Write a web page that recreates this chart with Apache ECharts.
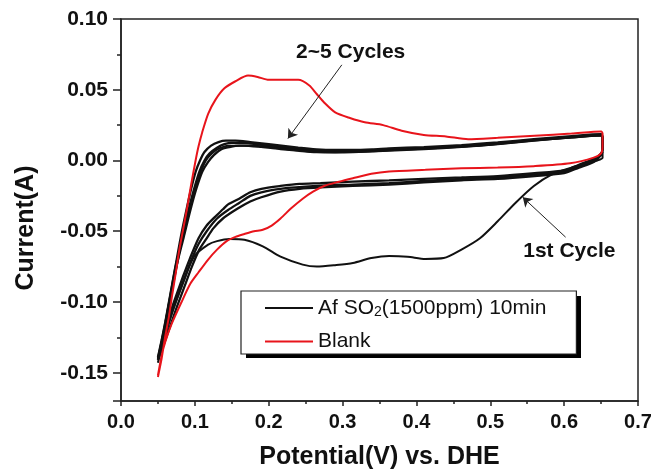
<!DOCTYPE html>
<html>
<head>
<meta charset="utf-8">
<script src="https://cdn.jsdelivr.net/npm/echarts@6/dist/echarts.min.js"></script>
<style>
  html, body { margin: 0; padding: 0; background: #fff; }
  #cv { width: 666px; height: 475px; }
</style>
</head>
<body>
<div id="cv"></div>
<script>
// axis ticks
const xTicks = [0, 0.7, 0.1]
const yRange = [-0.17, 0.10]

const blackName = 'Af SO2(1500ppm) 10min'
const redName = 'Blank'

// Blank: anodic then cathodic scan [potential, current]
const blank = [
  [0.050, -0.153], [0.055, -0.140], [0.060, -0.124], [0.065, -0.110], [0.069, -0.096],
  [0.074, -0.080], [0.079, -0.063], [0.084, -0.049], [0.089, -0.035], [0.095, -0.017],
  [0.101, 0.000], [0.105, 0.010], [0.110, 0.020], [0.118, 0.033], [0.128, 0.043],
  [0.140, 0.051], [0.155, 0.056], [0.172, 0.060], [0.185, 0.059], [0.200, 0.057],
  [0.220, 0.057], [0.240, 0.057], [0.255, 0.053], [0.265, 0.047], [0.275, 0.041],
  [0.290, 0.034], [0.310, 0.030], [0.330, 0.027], [0.355, 0.025], [0.380, 0.021],
  [0.410, 0.018], [0.440, 0.017], [0.470, 0.015], [0.510, 0.016], [0.560, 0.0175],
  [0.610, 0.019], [0.650, 0.0205], [0.652, 0.019], [0.652, 0.010], [0.650, 0.005],
  [0.640, 0.002], [0.608, -0.002], [0.559, -0.004], [0.510, -0.005], [0.461, -0.0055],
  [0.412, -0.0066], [0.363, -0.0078], [0.339, -0.0094], [0.314, -0.0125], [0.295, -0.015],
  [0.275, -0.018], [0.260, -0.022], [0.246, -0.027], [0.230, -0.034], [0.216, -0.041],
  [0.204, -0.046], [0.192, -0.049], [0.180, -0.050], [0.167, -0.052], [0.155, -0.054],
  [0.143, -0.057], [0.130, -0.063], [0.118, -0.070], [0.105, -0.079], [0.094, -0.087],
  [0.082, -0.100], [0.069, -0.115], [0.060, -0.128], [0.055, -0.138], [0.050, -0.152]
]

// 1st cycle after SO2: starts at 0.65 V going cathodic, then anodic
const cycle1 = [
  [0.652, 0.006], [0.652, 0.002], [0.645, 0.000], [0.630, -0.002], [0.608, -0.0054],
  [0.583, -0.010], [0.559, -0.018], [0.534, -0.030], [0.510, -0.043], [0.486, -0.055],
  [0.461, -0.063], [0.437, -0.069], [0.412, -0.0696], [0.388, -0.068], [0.363, -0.0675],
  [0.339, -0.069], [0.314, -0.0725], [0.290, -0.074], [0.265, -0.075], [0.246, -0.0736],
  [0.216, -0.068], [0.192, -0.0607], [0.167, -0.056], [0.147, -0.0555], [0.130, -0.057],
  [0.118, -0.0595], [0.099, -0.0678], [0.084, -0.0866], [0.069, -0.108], [0.057, -0.129],
  [0.050, -0.143], [0.055, -0.130], [0.061, -0.114], [0.068, -0.095], [0.075, -0.076],
  [0.083, -0.055], [0.092, -0.035], [0.100, -0.020], [0.108, -0.008], [0.115, 0.000],
  [0.123, 0.005], [0.133, 0.0085], [0.145, 0.0105], [0.165, 0.0105], [0.190, 0.0095],
  [0.216, 0.008], [0.240, 0.0068], [0.265, 0.0058], [0.290, 0.0056], [0.314, 0.0058],
  [0.363, 0.0068], [0.410, 0.008], [0.461, 0.0095], [0.510, 0.0115], [0.559, 0.014],
  [0.610, 0.0162], [0.650, 0.0178]
]

// cycle 2 (inner edge of the band)
const cycle2 = [
  [0.050, -0.141], [0.055, -0.129], [0.060, -0.116], [0.067, -0.096], [0.075, -0.075],
  [0.085, -0.054], [0.094, -0.035], [0.102, -0.020], [0.110, -0.008], [0.118, -0.001],
  [0.126, 0.004], [0.136, 0.008], [0.147, 0.0095], [0.160, 0.0105], [0.175, 0.0105],
  [0.190, 0.010], [0.216, 0.0085], [0.240, 0.0072], [0.265, 0.0062], [0.290, 0.006],
  [0.314, 0.0062], [0.340, 0.0066], [0.363, 0.0073], [0.410, 0.0084], [0.461, 0.0098],
  [0.510, 0.0118], [0.559, 0.0142], [0.610, 0.0163], [0.650, 0.0178], [0.652, 0.016],
  [0.652, 0.008], [0.650, 0.004], [0.640, -0.001], [0.620, -0.005], [0.600, -0.009],
  [0.560, -0.011], [0.510, -0.013], [0.461, -0.014], [0.410, -0.0155], [0.363, -0.017],
  [0.314, -0.018], [0.270, -0.019], [0.242, -0.020], [0.216, -0.022], [0.190, -0.026],
  [0.175, -0.029], [0.158, -0.034], [0.138, -0.041], [0.125, -0.048], [0.116, -0.055],
  [0.106, -0.063], [0.096, -0.075], [0.086, -0.089], [0.076, -0.103], [0.066, -0.118],
  [0.058, -0.130], [0.050, -0.141]
]

// cycle 3-4
const cycle3 = [
  [0.050, -0.140], [0.055, -0.128], [0.060, -0.115], [0.067, -0.095], [0.074, -0.075],
  [0.083, -0.054], [0.092, -0.034], [0.099, -0.020], [0.106, -0.008], [0.113, 0.000],
  [0.120, 0.005], [0.130, 0.009], [0.140, 0.0115], [0.150, 0.0125], [0.165, 0.0125],
  [0.190, 0.011], [0.216, 0.0095], [0.240, 0.008], [0.265, 0.0068], [0.290, 0.0065],
  [0.314, 0.0066], [0.340, 0.007], [0.363, 0.0078], [0.410, 0.0088], [0.461, 0.010],
  [0.510, 0.012], [0.559, 0.0145], [0.610, 0.0165], [0.650, 0.018], [0.652, 0.016],
  [0.652, 0.008], [0.650, 0.004], [0.640, 0.000], [0.620, -0.004], [0.600, -0.008],
  [0.560, -0.010], [0.510, -0.012], [0.461, -0.013], [0.410, -0.0145], [0.363, -0.016],
  [0.314, -0.017], [0.265, -0.018], [0.216, -0.020], [0.190, -0.0225], [0.175, -0.025],
  [0.160, -0.030], [0.145, -0.035], [0.130, -0.041], [0.116, -0.050], [0.105, -0.059],
  [0.094, -0.072], [0.084, -0.086], [0.074, -0.100], [0.065, -0.114], [0.058, -0.126],
  [0.050, -0.140]
]

// cycle 5 (outer edge of the band)
const cycle5 = [
  [0.050, -0.139], [0.055, -0.127], [0.060, -0.114], [0.067, -0.094], [0.074, -0.074],
  [0.081, -0.054], [0.089, -0.034], [0.095, -0.020], [0.101, -0.008], [0.107, 0.000],
  [0.113, 0.006], [0.122, 0.0105], [0.132, 0.013], [0.142, 0.014], [0.155, 0.014],
  [0.175, 0.013], [0.200, 0.0115], [0.240, 0.009], [0.265, 0.0078], [0.290, 0.0074],
  [0.314, 0.0074], [0.340, 0.0078], [0.363, 0.0085], [0.410, 0.0095], [0.461, 0.0108],
  [0.510, 0.0127], [0.559, 0.015], [0.610, 0.0172], [0.650, 0.0186], [0.652, 0.017],
  [0.652, 0.009], [0.650, 0.005], [0.640, 0.001], [0.620, -0.003], [0.600, -0.007],
  [0.560, -0.009], [0.510, -0.011], [0.461, -0.012], [0.410, -0.013], [0.363, -0.014],
  [0.314, -0.015], [0.270, -0.016], [0.242, -0.0165], [0.216, -0.018], [0.190, -0.020],
  [0.175, -0.0225], [0.160, -0.027], [0.145, -0.031], [0.138, -0.0345], [0.127, -0.040],
  [0.116, -0.046], [0.105, -0.055], [0.093, -0.0697], [0.084, -0.082], [0.073, -0.098],
  [0.064, -0.112], [0.057, -0.124], [0.050, -0.139]
]

// annotations: text anchor and arrow [from, to]
const notes = [[0.311, 0.0768, '2~5 Cycles'], [0.607, -0.064, '1st Cycle']]
const arrows = [
  [[0.299, 0.0676], [0.226, 0.0155]],
  [[0.602, -0.0542], [0.544, -0.026]]
]

const font = '"Liberation Sans", Arial, sans-serif'
const chart = echarts.init(document.getElementById('cv'))

function curve(name, data, color, width) {
  return {
    name: name,
    type: 'line',
    data: data,
    color: color,
    showSymbol: false,
    symbol: 'none',
    smooth: 0.25,
    lineStyle: { width: width, color: color },
    z: 3,
  }
}

const option = {
  animation: false,
  backgroundColor: '#fff',
  textStyle: { fontFamily: font },
  grid: {
    left: 121, right: 28, top: 19, bottom: 73,
    show: true, borderColor: '#222', borderWidth: 1.5,
  },
  legend: {
    orient: 'vertical',
    left: 241,
    top: 291,
    padding: [5, 30, 2, 24],
    itemGap: 12,
    itemWidth: 48,
    itemHeight: 2,
    icon: 'rect',
    backgroundColor: '#fff',
    borderColor: '#222',
    borderWidth: 1.2,
    z: 6,
    data: [blackName, redName],
    formatter: (n) => n === blackName
      ? '{a|Af SO}{s|2}{a|(1500ppm) 10min}'
      : '{a|' + n + '}',
    textStyle: {
      rich: {
        a: { fontFamily: font, fontSize: 21, color: '#111', lineHeight: 22 },
        s: { fontFamily: font, fontSize: 14, color: '#111', lineHeight: 22, verticalAlign: 'bottom', padding: [9, 0, 0, 0] },
      },
    },
  },
  xAxis: {
    type: 'value',
    min: xTicks[0], max: xTicks[1], interval: xTicks[2],
    name: 'Potential(V) vs. DHE',
    nameLocation: 'middle',
    nameGap: 44,
    nameTextStyle: { fontFamily: font, fontWeight: 'bold', fontSize: 25, color: '#111' },
    axisLine: { onZero: false, lineStyle: { color: '#222', width: 1.5 } },
    axisTick: { show: true, inside: false, length: 5, lineStyle: { color: '#222', width: 1.5 } },
    minorTick: { show: true, splitNumber: 2, length: 3, lineStyle: { color: '#222', width: 1.5 } },
    splitLine: { show: false },
    axisLabel: {
      fontFamily: font, fontWeight: 'bold', fontSize: 20, color: '#111', margin: 11,
      formatter: (v) => v.toFixed(1),
    },
  },
  yAxis: {
    type: 'value',
    min: yRange[0], max: yRange[1],
    splitNumber: 5,
    name: 'Current(A)',
    nameLocation: 'middle',
    nameGap: 82,
    nameTextStyle: { fontFamily: font, fontWeight: 'bold', fontSize: 25, color: '#111', padding: [0, 36, 0, 0] },
    axisLine: { show: true, onZero: false, lineStyle: { color: '#222', width: 1.5 } },
    axisTick: { show: true, inside: false, length: 8, lineStyle: { color: '#222', width: 1.5 } },
    minorTick: { show: true, splitNumber: 2, length: 4, lineStyle: { color: '#222', width: 1.5 } },
    splitLine: { show: false },
    axisLabel: {
      fontFamily: font, fontWeight: 'bold', fontSize: 21, color: '#111', margin: 13,
      showMinLabel: false,
      formatter: (v) => v.toFixed(2),
    },
  },
  series: [
    curve(blackName, cycle2, '#111', 2.3),
    curve(blackName, cycle3, '#111', 2.3),
    curve(blackName, cycle5, '#111', 2.3),
    curve(blackName, cycle1, '#111', 2),
    curve(redName, blank, '#e8141b', 2),
    {
      type: 'lines',
      coordinateSystem: 'cartesian2d',
      data: arrows.map((c) => ({ coords: c })),
      symbol: ['none', 'arrow'],
      symbolSize: 9,
      lineStyle: { color: '#222', width: 1, opacity: 1 },
      silent: true,
      z: 5,
    },
  ],
}
chart.setOption(option)

// annotation texts and legend drop shadow
const noteTexts = notes.map((n) => {
  const p = chart.convertToPixel({ gridIndex: 0 }, [n[0], n[1]])
  return {
    type: 'text',
    x: p[0], y: p[1], z: 10,
    style: {
      text: n[2], fill: '#111', align: 'center', verticalAlign: 'middle',
      font: 'bold 21px ' + font,
    },
  }
})
chart.setOption({
  graphic: [
    { type: 'rect', shape: { x: 246, y: 296, width: 335, height: 62 }, style: { fill: '#000' }, z: 1 },
  ].concat(noteTexts),
})
</script>
</body>
</html>
